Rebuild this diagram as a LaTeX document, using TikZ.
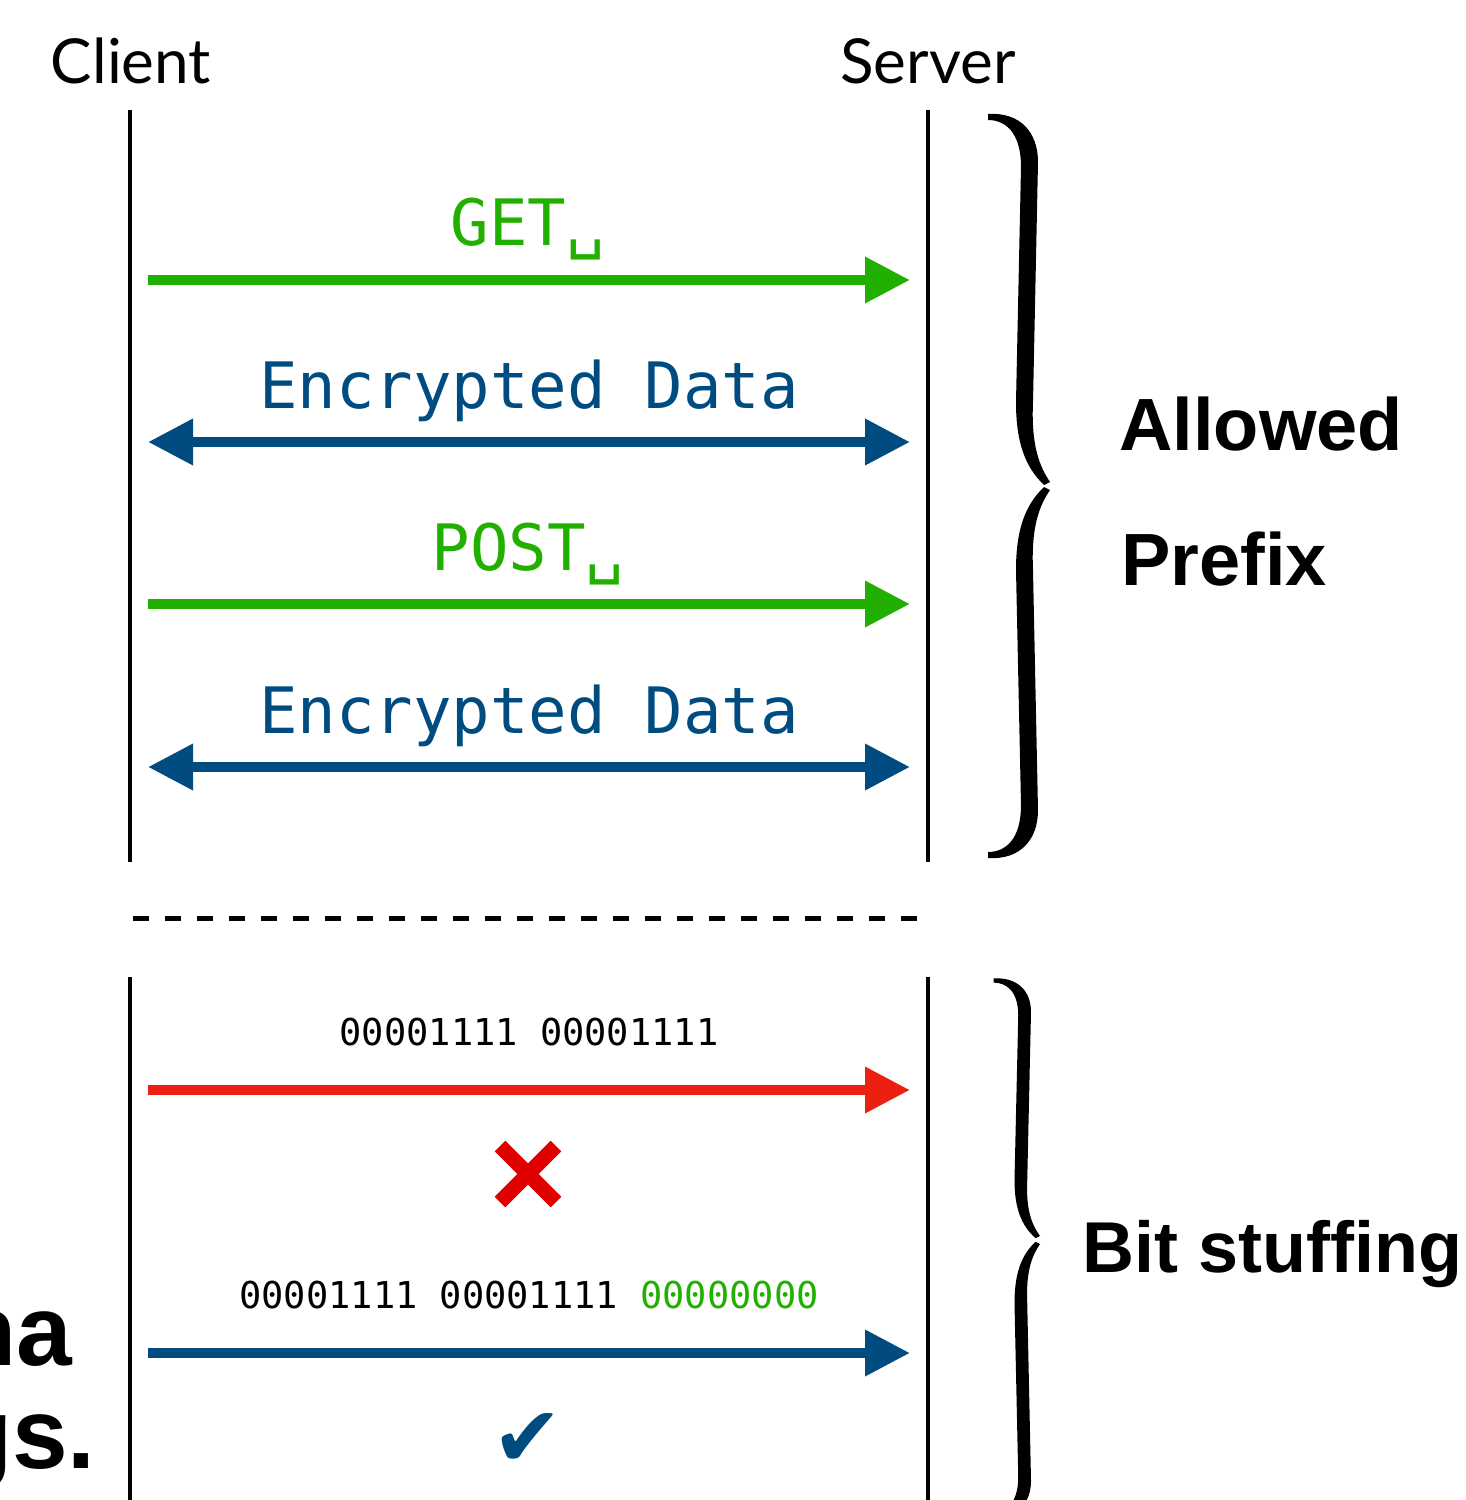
\documentclass[tikz,border=0pt]{standalone}
\usepackage{fontspec}
\setmainfont{Liberation Sans}
\newfontfamily\monof{DejaVu Sans Mono}
\newfontfamily\headf{Lato}
\newfontfamily\djv{DejaVu Sans}
\usetikzlibrary{arrows.meta}
\definecolor{cgreen}{RGB}{34,176,0}
\definecolor{cblue}{RGB}{0,76,128}
\definecolor{cred}{RGB}{236,32,16}
\definecolor{xred}{RGB}{225,0,0}
\newcommand\bracearmpath{%
  \fill (-62,368) .. controls (-30,370) and (-12,350) .. (-12,320)
    -- (-17,80) .. controls (-19,35) and (-10,15) .. (0,0)
    -- (-6,-3) .. controls (-25,15) and (-34,40) .. (-34,80)
    -- (-29,315) .. controls (-29,350) and (-45,362) .. (-62,362) -- cycle;}
\tikzset{
  lifeline/.style={line width=2pt, black},
  msg/.style={line width=5pt, -{Triangle[length=22.5pt,width=22pt]}},
  dmsg/.style={line width=5pt, {Triangle[length=22.5pt,width=22pt]}-{Triangle[length=22.5pt,width=22pt]}},
  head/.style={font=\headf\fontsize{31pt}{36pt}\selectfont, anchor=base, inner sep=0pt},
  bigmono/.style={font=\monof\fontsize{32pt}{38pt}\selectfont, anchor=base, inner sep=0pt},
  smallmono/.style={font=\monof\fontsize{18.5pt}{22pt}\selectfont, anchor=base, inner sep=0pt},
  sidelabel/.style={font=\bfseries\fontsize{37pt}{44pt}\selectfont, anchor=base west, inner sep=0pt},
  cutlabel/.style={font=\bfseries\fontsize{50pt}{58pt}\selectfont, anchor=base east, inner sep=0pt}
}
\begin{document}
\begin{tikzpicture}[x=0.5pt,y=0.5pt]
\useasboundingbox (0,0) rectangle (1466,-1500);
\begin{scope}
\clip (0,0) rectangle (1466,-1500);
% headers
\node[head] (client) at (131,-83) {Client};
\node[head] (server) at (928,-83) {Server};
% lifelines
\coordinate (c1) at (130,-110); \coordinate (c2) at (130,-862);
\coordinate (s1) at (928,-110); \coordinate (s2) at (928,-862);
\coordinate (c3) at (130,-977); \coordinate (c4) at (130,-1500);
\coordinate (s3) at (928,-977); \coordinate (s4) at (928,-1500);
\draw[lifeline] (c1) -- (c2);
\draw[lifeline] (s1) -- (s2);
\draw[lifeline] (c3) -- (c4);
\draw[lifeline] (s3) -- (s4);
% messages
\coordinate (a1) at (148,-280); \coordinate (b1) at (910,-280);
\coordinate (a2) at (148,-442); \coordinate (b2) at (910,-442);
\coordinate (a3) at (148,-604); \coordinate (b3) at (910,-604);
\coordinate (a4) at (148,-767); \coordinate (b4) at (910,-767);
\coordinate (a5) at (148,-1090); \coordinate (b5) at (910,-1090);
\coordinate (a6) at (148,-1353); \coordinate (b6) at (910,-1353);
\draw[msg, cgreen] (a1) -- (b1);
\draw[dmsg, cblue] (a2) -- (b2);
\draw[msg, cgreen] (a3) -- (b3);
\draw[dmsg, cblue] (a4) -- (b4);
\draw[msg, cred] (a5) -- (b5);
\draw[msg, cblue] (a6) -- (b6);
\node[bigmono, text=cgreen] (get) at (528,-245) {GET␣};
\node[bigmono, text=cblue] (enc1) at (529,-408) {Encrypted Data};
\node[bigmono, text=cgreen] (post) at (528,-570) {POST␣};
\node[bigmono, text=cblue] (enc2) at (529,-733) {Encrypted Data};
\node[smallmono] (bin1) at (529,-1045) {00001111 00001111};
\node[smallmono] (bin2) at (529,-1308) {00001111 00001111 \textcolor{cgreen}{00000000}};
% separator
\coordinate (d1) at (133,-918); \coordinate (d2) at (917,-918);
\draw[line width=2.5pt, dash pattern=on 8pt off 8pt] (d1) -- (d2);
% cross
\draw[xred, line width=7.5pt] (500,-1146) -- (556,-1202);
\draw[xred, line width=7.5pt] (556,-1146) -- (500,-1202);
% check
\node[font=\djv\fontsize{42pt}{48pt}\selectfont, text=cblue, inner sep=0pt] (check) at (528,-1440) {✔};
% braces
\begin{scope}[shift={(1050,-482)}] \bracearmpath \end{scope}
\begin{scope}[shift={(1050,-490)}, yscale=-1] \bracearmpath \end{scope}
\begin{scope}[shift={(1040,-1236)}, xscale=0.75, yscale=0.70] \bracearmpath \end{scope}
\begin{scope}[shift={(1040,-1244)}, xscale=0.75, yscale=-0.74] \bracearmpath \end{scope}
% side labels
\node[sidelabel] (allowed) at (1119,-450) {Allowed};
\node[sidelabel] (prefix) at (1121,-585) {Prefix};
\node[sidelabel, font=\bfseries\fontsize{36pt}{44pt}\selectfont] (bits) at (1082,-1272) {Bit stuffing};
\node[cutlabel] (na) at (73,-1365) {na};
\node[cutlabel] (gs) at (96,-1468) {gs.};
\end{scope}
\end{tikzpicture}
\end{document}
